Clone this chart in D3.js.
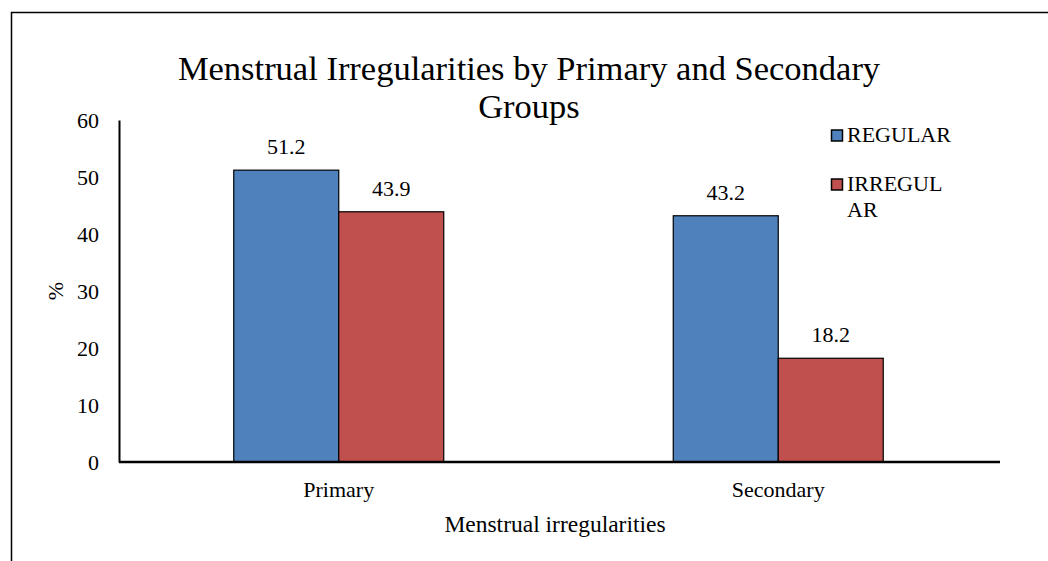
<!DOCTYPE html>
<html>
<head>
<meta charset="utf-8">
<script src="https://cdn.jsdelivr.net/npm/d3@7"></script>
<style>
  html, body { margin: 0; padding: 0; background: #fff; }
  svg { display: block; }
  svg text { font-family: "Liberation Serif", "Times New Roman", serif; fill: #000; }
</style>
</head>
<body>
<svg id="chart" width="1048" height="561"></svg>
<script>
// Chart data
const categories = ["Primary", "Secondary"];
const seriesNames = ["REGULAR", "IRREGULAR"];
const regularValues = [51.2, 43.2];
const irregularValues = [43.9, 18.2];
const yTicks = [0, 10, 20, 30, 40, 50, 60];
const seriesColors = ["#4F81BD", "#C0504D"];

const svg = d3.select("#chart");
const FS = 22;

// Outer frame (left and top edges visible)
svg.append("path")
  .attr("d", "M11.5,561 L11.5,12.5 L1048,12.5")
  .attr("fill", "none").attr("stroke", "#000").attr("stroke-width", 1.5);

const plot = { left: 119, right: 998, top: 120, bottom: 462 };

const x = d3.scaleBand().domain(categories).range([plot.left, plot.right]);
const x1 = d3.scaleBand().domain(seriesNames).range([0, 210]);
const y = d3.scaleLinear().domain([0, 60]).range([plot.bottom, plot.top]);

const rows = categories.map((c, i) => ({
  category: c,
  values: [regularValues[i], irregularValues[i]]
}));

// Bars
const groups = svg.append("g").selectAll("g").data(rows).join("g")
  .attr("transform", d => `translate(${x(d.category) + x.bandwidth() / 2 - 105},0)`);

groups.selectAll("rect").data(d => d.values.map((v, j) => ({ v, s: seriesNames[j], j })))
  .join("rect")
  .attr("x", d => x1(d.s))
  .attr("y", d => y(d.v))
  .attr("width", x1.bandwidth())
  .attr("height", d => y(0) - y(d.v))
  .attr("fill", d => seriesColors[d.j])
  .attr("stroke", "#000").attr("stroke-width", 1.2);

// Value labels
groups.selectAll("text").data(d => d.values.map((v, j) => ({ v, s: seriesNames[j] })))
  .join("text")
  .attr("x", d => x1(d.s) + x1.bandwidth() / 2)
  .attr("y", d => y(d.v) - 16)
  .attr("text-anchor", "middle")
  .attr("font-size", FS)
  .text(d => d.v.toFixed(1));

// Y axis
const yAxis = svg.append("g").attr("transform", `translate(${plot.left},0)`)
  .call(d3.axisLeft(y).tickValues(yTicks).tickSize(0).tickPadding(20));
yAxis.select(".domain").attr("stroke", "#000").attr("stroke-width", 2);
yAxis.selectAll("text").attr("font-size", FS).attr("font-family", null).attr("dy", "0.33em");

// X axis
const xAxis = svg.append("g").attr("transform", `translate(0,${plot.bottom})`)
  .call(d3.axisBottom(x).tickSize(0));
xAxis.select(".domain").attr("d", `M${plot.left},0H1000`).attr("stroke", "#000").attr("stroke-width", 2.5);
xAxis.selectAll("text").attr("font-size", FS).attr("font-family", null).attr("y", 35).attr("dy", 0);

// Axis titles
svg.append("text")
  .attr("transform", "translate(63,291) rotate(-90)")
  .attr("text-anchor", "middle").attr("font-size", FS)
  .text("%");

svg.append("text")
  .attr("x", 555).attr("y", 532)
  .attr("text-anchor", "middle").attr("font-size", 23.5)
  .text("Menstrual irregularities");

// Title
const title = svg.append("text").attr("text-anchor", "middle").attr("font-size", 34.5);
title.append("tspan").attr("x", 529).attr("y", 80).text("Menstrual Irregularities by Primary and Secondary");
title.append("tspan").attr("x", 529).attr("y", 118).text("Groups");

// Legend
const legendRows = [
  { lines: ["REGULAR"], y: 142 },
  { lines: ["IRREGUL", "AR"], y: 191 }
];
const legend = svg.append("g");
legendRows.forEach((r, i) => {
  legend.append("rect")
    .attr("x", 831.5).attr("y", r.y - 12).attr("width", 11).attr("height", 11)
    .attr("fill", seriesColors[i]).attr("stroke", "#000").attr("stroke-width", 1.5);
  const t = legend.append("text").attr("font-size", FS);
  r.lines.forEach((ln, k) => {
    t.append("tspan").attr("x", 847).attr("y", r.y + k * 25.5).text(ln);
  });
});
</script>
</body>
</html>
